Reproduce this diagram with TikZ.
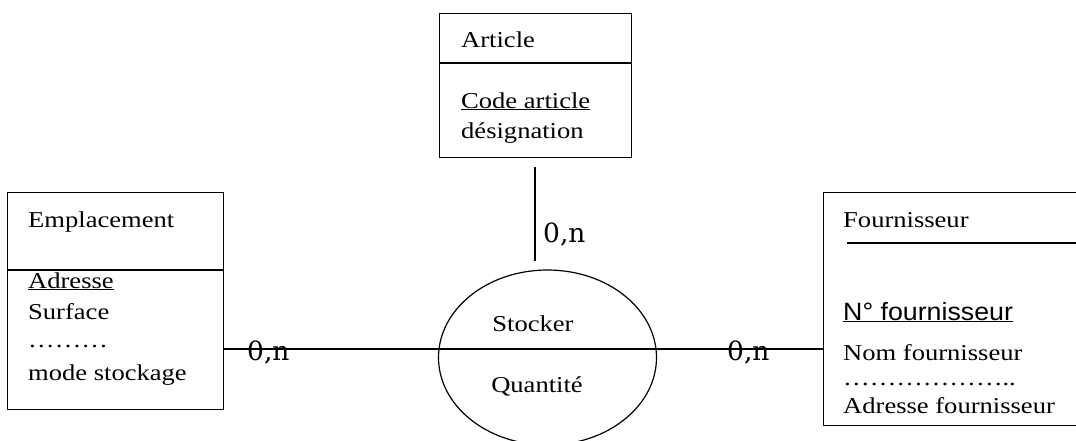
\documentclass[tikz,border=0pt]{standalone}
\usepackage{fontspec}
\setmainfont{Liberation Serif}
\newfontfamily\tnr{Liberation Serif}[FakeStretch=1.17]
\newfontfamily\ari{Liberation Sans}[FakeStretch=1.07]
\newfontfamily\card{DejaVu Serif}
\usetikzlibrary{shapes.geometric}
\begin{document}
\begin{tikzpicture}[x=1pt,y=1pt,
  box/.style={draw, line width=1.2pt, anchor=north west, inner sep=0pt},
  txt/.style={anchor=base west, inner sep=0pt, font=\fontsize{22.7}{26}\tnr},
  ctxt/.style={anchor=base, inner sep=0pt, font=\fontsize{22.7}{26}\tnr},
  stxt/.style={anchor=base west, inner sep=0pt, font=\fontsize{25}{28}\ari},
  card/.style={anchor=base west, inner sep=0pt, font=\fontsize{26.5}{28}\card},
  link/.style={line width=1.2pt}]
\useasboundingbox (0,0) rectangle (1076,-440);
\clip (0,0) rectangle (1076,-440);
% boxes
\node[box, minimum width=192pt, minimum height=144pt] (art) at (439,-13) {};
\node[box, minimum width=216pt, minimum height=217pt] (emp) at (7,-192) {};
\node[box, minimum width=280pt, minimum height=233pt] (four) at (823,-192) {};
\node[draw, ellipse, line width=1.2pt, minimum width=218pt, minimum height=175pt, inner sep=0pt] (stk) at (547.5,-357.5) {};
% dividers
\coordinate (artdiv) at (439,-63);
\draw[link] (artdiv) -- (artdiv -| art.east);
\coordinate (empdiv) at (7,-270);
\draw[link] (empdiv) -- (empdiv -| emp.east);
\coordinate (fourdiv) at (847,-243);
\draw[link] (fourdiv) -- (fourdiv -| four.east);
% connectors
\coordinate (mid) at (547,-349);
\draw[link] (mid -| emp.east) -- (mid -| four.west);
\coordinate (vtop) at (535,-167);
\coordinate (vbot) at (535,-261);
\draw[link] (vtop) -- (vbot);
% texts
\node[txt] (t1) at (461,-47) {Article};
\node[txt] (t2) at (461,-108) {\underline{Code article}};
\node[txt] (t3) at (461,-138) {désignation};
\node[txt] (e1) at (28,-227) {Emplacement};
\node[txt] (e2) at (28,-288) {\underline{Adresse}};
\node[txt] (e3) at (28,-319) {Surface};
\node[txt] (e4) at (28,-347) {………};
\node[txt] (e5) at (28,-380) {mode stockage};
\node[txt] (f1) at (843,-227) {Fournisseur};
\node[stxt] (f2) at (843,-320) {\underline{N° fournisseur}};
\node[txt] (f3) at (843,-360) {Nom fournisseur};
\node[txt] (f4) at (843,-385) {………………..};
\node[txt] (f5) at (843,-413) {Adresse fournisseur};
\node[ctxt] (s1) at (533,-331) {Stocker};
\node[ctxt] (s2) at (537,-392) {Quantité};
% cardinalities
\node[card] (c1) at (543,-242) {0,n};
\node[card] (c2) at (247,-360) {0,n};
\node[card] (c3) at (727,-360) {0,n};
\end{tikzpicture}
\end{document}
